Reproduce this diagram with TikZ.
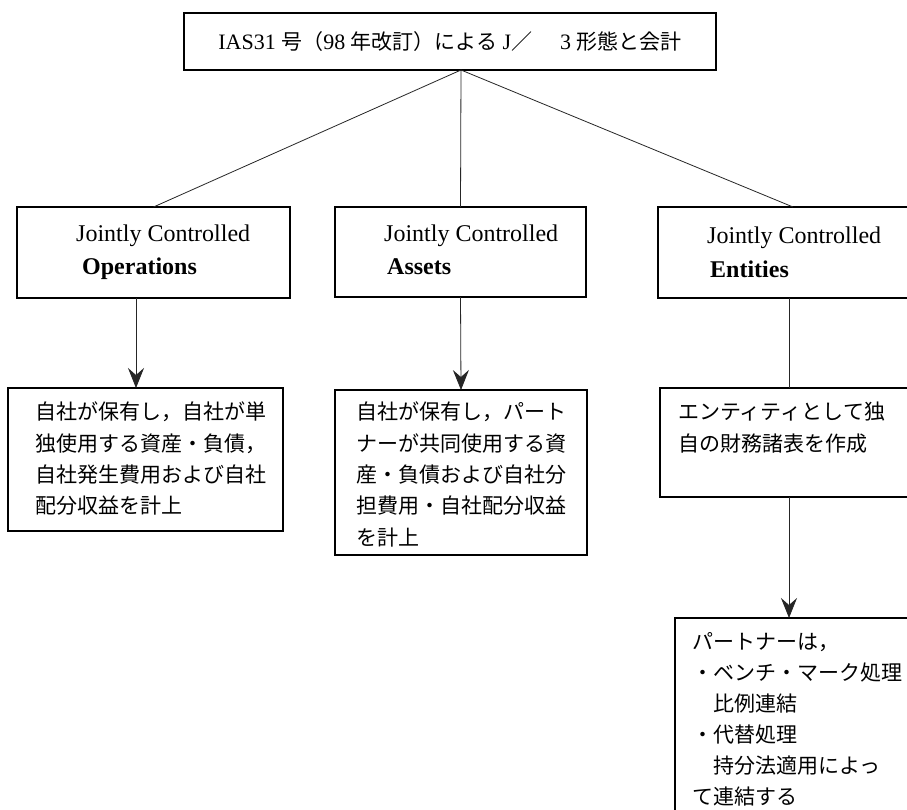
\documentclass[tikz,border=0pt]{standalone}
\usepackage{fontspec}
\setmainfont{Liberation Serif}
\newfontfamily\jpfont{Noto Sans CJK JP}
\usetikzlibrary{arrows.meta}
\begin{document}
\begin{tikzpicture}[x=1pt,y=-1pt,
  boxst/.style={draw=black, line width=1.1pt, inner sep=0pt, outer sep=0pt, anchor=north west},
  jptext/.style={font=\jpfont\fontsize{21}{31.3}\selectfont, anchor=north west, align=left, inner sep=0pt},
  entext/.style={font=\fontsize{24}{28}\selectfont, anchor=base west, inner sep=0pt},
  enbold/.style={font=\bfseries\fontsize{24}{28}\selectfont, anchor=base west, inner sep=0pt},
  conn/.style={draw=black!85, line width=0.8pt},
  arr/.style={conn, -{Stealth[length=20pt,width=16pt,inset=7pt]}}]
\useasboundingbox (0,0) rectangle (907,809);
\fill[white] (0,0) rectangle (907,809);

% title
\node[draw=black, line width=1.1pt, minimum width=532pt, minimum height=57pt, inner sep=0pt,
      font=\fontsize{22}{26}\selectfont] (title) at (450,41.5)
  {IAS31 {\jpfont\fontsize{21}{26}\selectfont 号（}98 {\jpfont\fontsize{21}{26}\selectfont 年改訂）による} J{\jpfont\fontsize{21}{26}\selectfont ／}\hspace{28pt}3 {\jpfont\fontsize{21}{26}\selectfont 形態と会計}};

% upper boxes
\node[boxst, minimum width=273pt, minimum height=91pt] (op) at (17,207) {};
\node[boxst, minimum width=251pt, minimum height=90pt] (as) at (335,207) {};
\node[boxst, minimum width=270pt, minimum height=91pt] (en) at (658,207) {};

\node[entext] (opa) at (76,241) {Jointly Controlled};
\node[enbold] (opb) at (82,274) {Operations};
\node[entext] (asa) at (384,241) {Jointly Controlled};
\node[enbold] (asb) at (387,274) {Assets};
\node[entext] (ena) at (707,243) {Jointly Controlled};
\node[enbold] (enb) at (710,277) {Entities};

% lower boxes
\node[boxst, minimum width=275pt, minimum height=143pt] (opd) at (8,388) {};
\node[jptext] (opdt) at (35,402) {自社が保有し，自社が単\\独使用する資産・負債，\\自社発生費用および自社\\配分収益を計上};

\node[boxst, minimum width=252pt, minimum height=165pt] (asd) at (335,390) {};
\node[jptext] (asdt) at (356,402) {自社が保有し，パート\\ナーが共同使用する資\\産・負債および自社分\\担費用・自社配分収益\\を計上};

\node[boxst, minimum width=258pt, minimum height=109pt] (ed) at (660,388) {};
\node[jptext] (edt) at (678,402) {エンティティとして独\\自の財務諸表を作成};

\node[boxst, minimum width=260pt, minimum height=210pt] (par) at (675,618) {};
\node[jptext, font=\jpfont\fontsize{21}{31}\selectfont] (part) at (692,632)
  {パートナーは，\\・ベンチ・マーク処理\\\hspace{1em}比例連結\\・代替処理\\\hspace{1em}持分法適用によっ\\て連結する};

% connectors
\coordinate (tj) at (461,70);
\draw[conn] (tj) -- (op.north);
\draw[conn] (tj) -- (as.north);
\draw[conn] (tj) -- (en.north);
\coordinate (ax) at (136,0);
\draw[arr] (op.south -| ax) -- (opd.north -| ax);
\draw[arr] (as.south) -- (asd.north);
\draw[conn] (en.south -| ed.north) -- (ed.north);
\draw[arr] (ed.south) -- (ed.south |- par.north);
\end{tikzpicture}
\end{document}
